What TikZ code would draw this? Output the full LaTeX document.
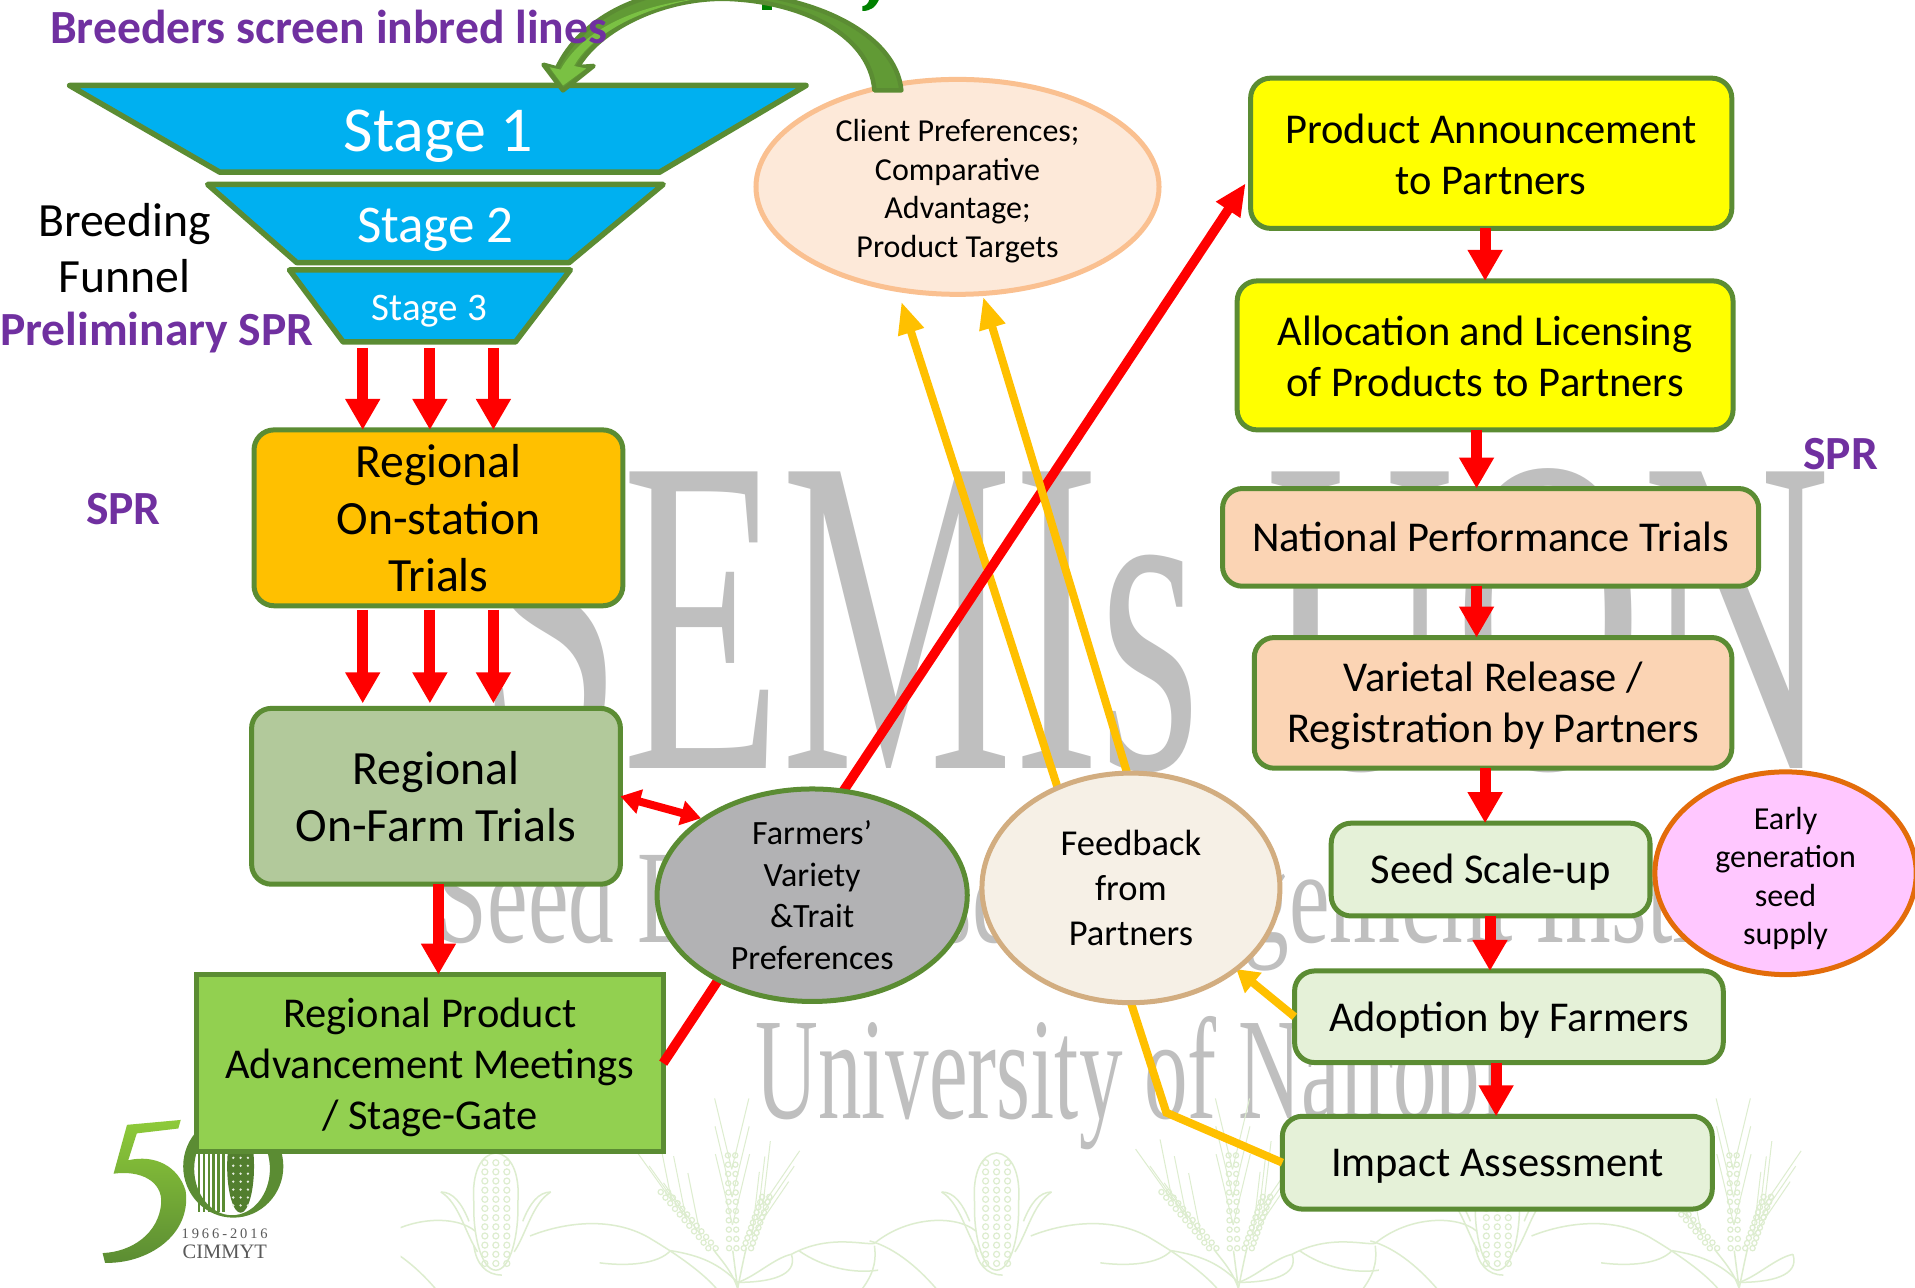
\documentclass[tikz,border=0pt]{standalone}
\usepackage{fontspec}
\setmainfont{Carlito}
\newfontfamily\wmfont{Liberation Serif}
\newfontfamily\logofont[LetterSpace=20]{Liberation Serif}
\usetikzlibrary{arrows.meta,calc,shapes.geometric}
\definecolor{gr}{HTML}{5B8C33}
\definecolor{grfill}{HTML}{619A35}
\definecolor{grlight}{HTML}{7AC143}
\definecolor{purp}{HTML}{7030A0}
\definecolor{wm}{HTML}{BFBFBF}
\definecolor{pale}{HTML}{DDEDCF}
\definecolor{amber}{HTML}{FFC000}
\definecolor{peach}{HTML}{FBD4B4}
\definecolor{lgreen}{HTML}{E5F1D8}
\definecolor{yel}{RGB}{255,255,0}
\definecolor{rd}{RGB}{255,0,0}
\definecolor{topgreen}{RGB}{0,128,0}
\pgfdeclarelayer{bg}\pgfdeclarelayer{conn}\pgfdeclarelayer{ell}\pgfdeclarelayer{front}
\pgfsetlayers{bg,main,conn,ell,front}
\tikzset{
 rbox/.style={draw=gr,line width=5pt,rounded corners=20pt,inner sep=0pt,outer sep=0pt,align=center},
 sbox/.style={draw=gr,line width=5pt,inner sep=0pt,outer sep=0pt,align=center},
 oval/.style={shape=ellipse,line width=5pt,inner sep=-30pt,outer sep=0pt,align=center},
 tx/.style={inner sep=0pt,outer sep=0pt,align=center},
 tA/.style={font=\fontsize{42.5}{51}\selectfont},
 tB/.style={font=\fontsize{47.7}{57}\selectfont},
 tC/.style={font=\fontsize{32}{38.5}\selectfont},
 tD/.style={font=\fontsize{34}{41.5}\selectfont},
 tE/.style={font=\fontsize{36.5}{45}\selectfont},
 pur/.style={font=\fontsize{47.6}{50}\selectfont\bfseries,text=purp},
 funnel/.style={draw=gr,line width=5.5pt,line join=round},
 redarr/.style={draw=rd,line width=11pt,-{Triangle[width=33pt,length=31pt]}},
 yelarr/.style={draw=amber,line width=8pt,-{Triangle[width=25pt,length=32pt]}},
 pl/.style={draw=pale,line width=1.5pt},
}
\newcommand{\dn}[1]{\rule{0pt}{\dimexpr.75em+#1pt\relax}}
\newcommand{\bx}[7]{%
 \pgfmathsetlengthmacro\bw{(#4-#2)*1.2213}%
 \pgfmathsetlengthmacro\bh{(#5-#3)*1.2213}%
 \node[#6,minimum width=\bw,minimum height=\bh] (#1) at ({(#2+#4)/2},{(#3+#5)/2}) {#7};}
\newcommand{\ear}[4]{%
 \foreach \t in {0,0.1,...,1.01}{
  \draw[pl,line width=1.2pt] ($(#1,#2)!\t!(#3,#4)+(-3,0)$) circle[radius=2.6pt];
  \draw[pl,line width=1.2pt] ($(#1,#2)!\t!(#3,#4)+(3,0)$) circle[radius=2.6pt];
 }}
\newcommand{\awn}[6]{%
 \foreach \t in {0.15,0.45,0.75}{
  \draw[pl,line width=1pt] ($(#1,#2)!\t!(#3,#4)$) -- ++(#5,#6);
 }}
\begin{document}
\begin{tikzpicture}[x=1.2213pt,y=-1.2213pt]
\path[use as bounding box] (0,0) rectangle (1568,1053.8);
% ---------- background
\begin{pgfonlayer}{bg}
\fill[white] (0,0) rectangle (1568,1053.8);
\begin{scope}
\clip (0,0) rectangle (1568,1053.8);
\node[anchor=base,inner sep=0pt,text=wm,font=\wmfont\fontsize{453}{453}\selectfont] (wmA) at (945,629) {\scalebox{.575}[1]{SEMIs UON}};
\node[anchor=base,inner sep=0pt,text=wm,font=\wmfont\fontsize{133}{133}\selectfont] (wmB) at (930,772) {\scalebox{.687}[1]{Seed Enterprise Management Institute}};
\node[anchor=base,inner sep=0pt,text=wm,font=\wmfont\fontsize{145}{145}\selectfont] (wmC) at (925,916) {\scalebox{.6}[1]{University of Nairobi}};
% pattern
\begin{scope}
 \clip (328,900) rectangle (1568,1060);
 \begin{scope}[shift={(194,0)}]
  \draw[pl] (44,1027) .. controls (75,1010) and (105,1020) .. (112,1018) .. controls (140,995) and (180,995) .. (195,1008);
  \draw[pl] (50,1024) .. controls (70,1038) and (95,1043) .. (115,1040);
  \draw[pl] (108,1016) .. controls (130,1022) and (150,1040) .. (165,1058);
  \draw[pl] (112,1020) .. controls (114,1035) and (110,1045) .. (100,1058);
 \end{scope}
\end{scope}
\foreach \W in {604,1014,1424}{
 \begin{scope}[shift={(\W,0)}]
  \draw[pl] (-170,1012) .. controls (-140,1000) and (-100,996) .. (-70,1015) .. controls (-45,1030) and (-25,1045) .. (-15,1058);
  \draw[pl] (-113,1034) .. controls (-90,1037) and (-65,1035) .. (-55,1024);
  \draw[pl] (0,1050) .. controls (-15,1035) and (-30,1028) .. (-55,1024);
  \draw[pl] (0,1050) .. controls (15,1045) and (30,1030) .. (44,1027);
  \draw[pl] (0,1050) .. controls (25,1050) and (50,1045) .. (44,1027);
  \draw[pl] (0,1055) -- (-4,1024);
  \draw[pl] (0,1055) .. controls (-5,1040) and (-15,1030) .. (-20,1023);
  \draw[pl] (0,1055) .. controls (3,1040) and (5,1030) .. (7,1022);
  \ear{-60}{976}{-21}{1022}
  \ear{-5}{946}{-4}{1022}
  \ear{23}{980}{8}{1022}
  \awn{-60}{976}{-21}{1022}{-30}{-42}
  \awn{-60}{976}{-21}{1022}{-10}{-50}
  \awn{-5}{946}{-4}{1022}{-14}{-58}
  \awn{-5}{946}{-4}{1022}{14}{-58}
  \awn{23}{980}{8}{1022}{30}{-44}
  \awn{23}{980}{8}{1022}{6}{-52}
 \end{scope}
}
\foreach \W in {604,1014}{
 \begin{scope}[shift={(\W,0)}]
  \draw[pl] (44,1027) .. controls (75,1010) and (105,1020) .. (112,1018) .. controls (140,995) and (180,995) .. (195,1008);
  \draw[pl] (50,1024) .. controls (70,1038) and (95,1043) .. (115,1040);
  \draw[pl] (108,1016) .. controls (130,1022) and (150,1040) .. (165,1058);
  \draw[pl] (112,1020) .. controls (114,1035) and (110,1045) .. (100,1058);
 \end{scope}
}
\foreach \C in {406,816,1226}{
 \begin{scope}[shift={(\C,0)}]
  \draw[pl] (-18,985) .. controls (-20,960) and (-12,945) .. (0,944) .. controls (12,945) and (20,960) .. (18,985) .. controls (19,1010) and (12,1040) .. (0,1040) .. controls (-12,1040) and (-19,1010) .. (-18,985);
  \foreach \i in {0,...,11}{
   \foreach \j in {-1,0,1}{
    \draw[pl,line width=1.2pt] (\j*9,{952+\i*7.5}) circle[radius=3pt];
   }}
  \draw[pl] (-45,976) .. controls (-30,985) and (-25,1010) .. (-15,1025);
  \draw[pl] (45,976) .. controls (30,985) and (25,1010) .. (15,1025);
  \draw[pl] (-45,976) .. controls (-35,976) and (-28,985) .. (-22,1000);
  \draw[pl] (45,976) .. controls (35,976) and (28,985) .. (22,1000);
  \draw[pl] (-18,1020) .. controls (-16,1035) and (-8,1044) .. (5,1044);
 \end{scope}
}
% cut-off green lettering at the top edge
\fill[topgreen] (624,-1) rectangle (632,8);
\fill[topgreen] (712,-1) -- (720,-1) .. controls (717,6) and (713,9) .. (706,9) -- (706,5) .. controls (709,5) and (711,3) .. (712,-1) -- cycle;
\end{scope}
% logo
\shade[top color=grlight!85!yellow,bottom color=gr]
 (148,917) -- (146,924) -- (112,928) -- (105,950) .. controls (127,945) and (146,955) .. (152,975) .. controls (157,1012) and (120,1035) .. (86,1034) -- (84,1026) .. controls (108,1025) and (130,1010) .. (132,985) .. controls (133,967) and (115,958) .. (93,961) -- (104,921) -- cycle;
\fill[gr,even odd rule] (191,955) ellipse[x radius=41*1.2213pt,y radius=42*1.2213pt] (190,957) ellipse[x radius=31*1.2213pt,y radius=38*1.2213pt];
\foreach \xx in {163,167,171,175,179,183}{\draw[gr,line width=2.6pt] (\xx,935) -- (\xx,992);}
\fill[gr!90!black] (197,955) ellipse[x radius=11*1.2213pt,y radius=38*1.2213pt];
\foreach \i in {0,...,6}{\foreach \j in {-1,0,1}{\fill[white!85!gr] ({197+\j*6},{948+\i*6.5}) circle[radius=1.3pt];}}
\node[tx,text=black!65,font=\logofont\fontsize{14.5}{15}\selectfont] (logoA) at (184,1010) {1966-2016};
\node[tx,text=black!65,font=\wmfont\fontsize{20.5}{21}\selectfont] (logoB) at (184,1025) {CIMMYT};
\end{pgfonlayer}
% ---------- funnel
\path[funnel,fill={rgb,255:red,0;green,176;blue,240}] (57,70) -- (660,70) -- (540,141) -- (180,141) -- cycle;
\path[funnel,fill={rgb,255:red,0;green,176;blue,240}] (170,151) -- (543,151) -- (466,215) -- (243,215) -- cycle;
\path[funnel,fill={rgb,255:red,0;green,176;blue,240}] (237,221) -- (467,221) -- (422,280) -- (281,280) -- cycle;
\bx{sa}{180}{76}{538}{147}{tx,text=white,font=\fontsize{64}{64}\selectfont}{Stage 1}
\bx{sb}{245}{156}{468}{220}{tx,text=white,font=\fontsize{53}{53}\selectfont}{Stage 2}
\bx{sc}{281}{225}{422}{284}{tx,text=white,font=\fontsize{39}{39}\selectfont}{Stage 3}
% ---------- boxes
\bx{onst}{208}{352}{510}{496}{rbox,fill=amber,tB}{Regional\\On-station\\Trials}
\bx{onfa}{206}{580}{508}{724}{rbox,fill={rgb,255:red,178;green,201;blue,155},tB}{Regional\\On-Farm Trials}
\bx{prod}{161}{798}{543}{943}{sbox,fill={rgb,255:red,146;green,208;blue,80},tA}{\dn{7}Regional Product\\Advancement Meetings\\/ Stage-Gate}
\bx{pann}{1024}{64}{1418}{187}{rbox,fill=yel,tA}{\dn{0}Product Announcement\\to Partners}
\bx{allo}{1013}{230}{1419}{352}{rbox,fill=yel,tA}{\dn{0}Allocation and Licensing\\of Products to Partners}
\bx{natl}{1001}{400}{1440}{480}{rbox,fill=peach,tA}{National Performance Trials}
\bx{vari}{1027}{522}{1418}{629}{rbox,fill=peach,tA}{\dn{4.5}Varietal Release /\\Registration by Partners}
\bx{seed}{1090}{674}{1351}{750}{rbox,fill=lgreen,tA}{\dn{2.5}Seed Scale-up}
\bx{adop}{1060}{795}{1411}{870}{rbox,fill=lgreen,tA}{\dn{5}Adoption by Farmers}
\bx{impa}{1050}{914}{1402}{990}{rbox,fill=lgreen,tA}{\dn{3}Impact Assessment}
% ---------- ellipses
\begin{pgfonlayer}{ell}
\bx{clie}{619}{65}{949}{241}{oval,draw={rgb,255:red,250;green,192;blue,144},fill={rgb,255:red,253;green,233;blue,217},tC}{\dn{7}Client Preferences;\\Comparative\\Advantage;\\Product Targets}
\bx{farm}{538}{646}{792}{820}{oval,draw=gr,fill={rgb,255:red,178;green,178;blue,180},tD}{Farmers’\\Variety\\\&Trait\\Preferences}
\bx{feed}{804}{633}{1048}{821}{oval,draw={rgb,255:red,210;green,173;blue,128},fill={rgb,255:red,246;green,240;blue,230},tE}{Feedback\\from\\Partners}
\bx{earl}{1355}{632}{1569}{798}{oval,draw={rgb,255:red,227;green,108;blue,10},fill={rgb,255:red,255;green,199;blue,255},tC}{\dn{9}Early\\generation\\seed\\supply}
% curved green arrow
\path[draw=gr,fill=grfill,line width=4.5pt,line join=round]
 (738,74) .. controls (734,30) and (670,-8) .. (570,-8) .. controls (525,-8) and (475,15) .. (456,56) -- (445,53) -- (461,74) -- (486,54) -- (473,55) .. controls (490,25) and (540,-1) .. (592,-1) .. controls (650,0) and (712,25) .. (716,74) -- cycle;
\fill[grlight] (459,57) -- (450,55) -- (461,70) -- (480,56) -- (470,54) .. controls (487,23) and (540,0) .. (590,-3) .. controls (530,1) and (480,20) .. (459,57) -- cycle;
\end{pgfonlayer}
% ---------- connector helpers
\coordinate (xa) at (297,0); \coordinate (xb) at (352,0); \coordinate (xc) at (404,0);
\coordinate (xd) at (1216,0); \coordinate (xe) at (1209,0); \coordinate (xf) at (1220,0); \coordinate (xg) at (1225,0); \coordinate (xh) at (359,0);
\coordinate (redEnd) at (1020,150);
\coordinate (ylA) at (866,645); \coordinate (ylB) at (925,640);
\coordinate (ytA) at (738,247); \coordinate (ytB) at (805,243);
\coordinate (bend) at (955,911);
\coordinate (dblA) at (508,652); \coordinate (dblB) at (574,670);
\begin{pgfonlayer}{conn}
\draw[yelarr] (ylA) -- (ytA);
\draw[draw=rd,line width=9.5pt,-{Triangle[width=27pt,length=32pt]}] (prod.east) -- (redEnd);
\draw[yelarr] (ylB) -- (ytB);
\foreach \xx in {xa,xb,xc}{
 \draw[redarr,shorten <=1pt] (\xx |- sc.south) -- (\xx |- onst.north);
 \draw[redarr,shorten <=4pt,shorten >=5pt] (\xx |- onst.south) -- (\xx |- onfa.north);
}
\draw[redarr] (xh |- onfa.south) -- (xh |- prod.north);
\draw[draw=rd,line width=8pt,{Triangle[width=24pt,length=20pt]}-{Triangle[width=24pt,length=20pt]}] (dblA) -- (dblB);
\draw[redarr] (xd |- pann.south) -- (xd |- allo.north);
\draw[redarr] (xe |- allo.south) -- (xe |- natl.north);
\draw[redarr] (xe |- natl.south) -- (xe |- vari.north);
\draw[redarr] (xd |- vari.south) -- (xd |- seed.north);
\draw[redarr] (xf |- seed.south) -- (xf |- adop.north);
\draw[redarr] (xg |- adop.south) -- (xg |- impa.north);
\draw[draw=amber,line width=8pt,-{Triangle[width=25pt,length=22pt]}] (adop.west) -- (feed.south east);
\draw[draw=amber,line width=8pt] (impa.west) -- (bend) -- (feed.south);
\end{pgfonlayer}
% ---------- free labels
\begin{pgfonlayer}{front}
\node[tx,pur,anchor=west] (tBreed) at (41,22) {Breeders screen inbred lines};
\node[tx,tB] (tFun) at (102,203) {Breeding\\[-1pt]Funnel};
\node[tx,pur,anchor=west] (tPre) at (0,272) {Preliminary SPR};
\node[tx,pur] (tSprA) at (101,417) {SPR};
\node[tx,pur] (tSprB) at (1507,372) {SPR};
\end{pgfonlayer}
\end{tikzpicture}
\end{document}
